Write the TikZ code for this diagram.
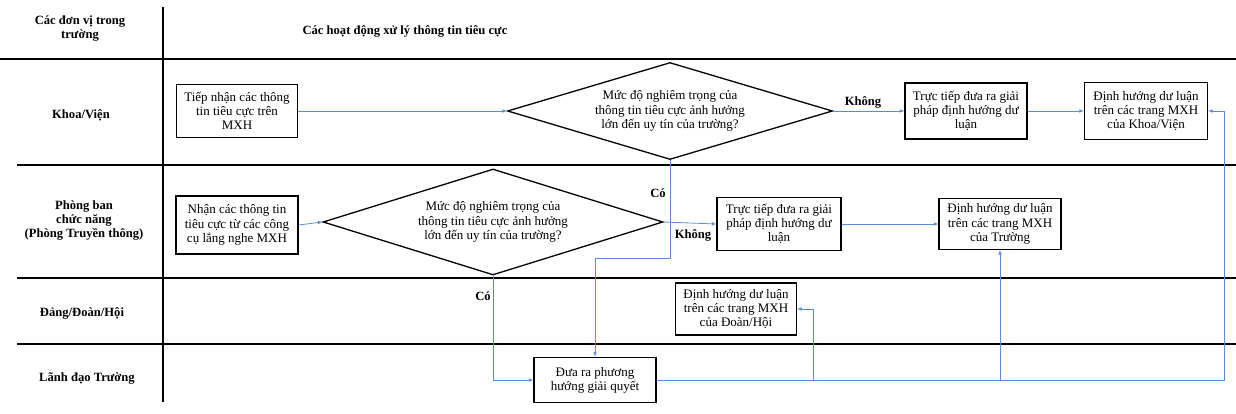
\documentclass[tikz,border=0pt]{standalone}
\usepackage{fontspec}
\setmainfont{Liberation Serif}
\usetikzlibrary{shapes.geometric,arrows.meta}
\definecolor{flow}{RGB}{91,141,212}
\begin{document}
\begin{tikzpicture}[x=1pt,y=-1pt,
  font=\fontsize{13}{14.2}\selectfont,
  lane/.style={draw=black,line width=1.8pt},
  box/.style={draw=black,line width=1.3pt,align=center,inner sep=0pt},
  decision/.style={diamond,draw=black,line width=1.3pt,align=center,inner sep=0pt,aspect=3.3},
  head/.style={font=\fontsize{12.6}{14}\selectfont\bfseries,align=center},
  lbl/.style={font=\fontsize{12.6}{13}\selectfont\bfseries},
  flowline/.style={draw=flow,line width=0.8pt},
  arr/.style={flowline,-{Latex[length=4.5pt,width=3.8pt]}}
]
\useasboundingbox (0,0) rectangle (1236,414);
% lane grid
\draw[lane] (163,7) -- (163,402);
\draw[lane] (0,59) -- (1236,59);
\draw[lane] (17,165) -- (1236,165);
\draw[lane] (17,278) -- (1236,278);
\draw[lane] (17,344) -- (1236,344);
% headers
\node[head] (h1) at (80,29) {Các đơn vị trong\\trường};
\node[head,anchor=west] (h2) at (299,31) {Các hoạt động xử lý thông tin tiêu cực};
\node[head] (r1) at (81,115) {Khoa/Viện};
\node[head] (r2) at (84,221) {Phòng ban\\chức năng\\(Phòng Truyền thông)};
\node[head] (r3) at (82,313) {Đảng/Đoàn/Hội};
\node[head] (r4) at (87,378) {Lãnh đạo Trường};
% row 1
\node[box,minimum width=121pt,minimum height=53pt] (A) at (237,111) {Tiếp nhận các thông\\tin tiêu cực trên\\MXH};
\node[decision,minimum width=325pt,minimum height=97pt] (D1) at (670,111) {Mức độ nghiêm trọng của\\thông tin tiêu cực ảnh hưởng\\lớn đến uy tín của trường?};
\node[box,minimum width=122pt,minimum height=56pt] (B) at (966,111) {Trực tiếp đưa ra giải\\pháp định hướng dư\\luận};
\node[box,minimum width=123pt,minimum height=57pt] (C) at (1146,111) {Định hướng dư luận\\trên các trang MXH\\của Khoa/Viện};
% row 2
\node[box,minimum width=122pt,minimum height=58pt] (F) at (237,225) {Nhận các thông tin\\tiêu cực từ các công\\cụ lắng nghe MXH};
\node[decision,minimum width=340pt,minimum height=106pt] (D2) at (493,222) {Mức độ nghiêm trọng của\\thông tin tiêu cực ảnh hưởng\\lớn đến uy tín của trường?};
\node[box,minimum width=124pt,minimum height=53pt] (G) at (779,224) {Trực tiếp đưa ra giải\\pháp định hướng dư\\luận};
\node[box,minimum width=122pt,minimum height=51pt] (H) at (1000,224) {Định hướng dư luận\\trên các trang MXH\\của Trường};
% row 3
\node[box,minimum width=121pt,minimum height=52pt] (I) at (736,309) {Định hướng dư luận\\trên các trang MXH\\của Đoàn/Hội};
% row 4
\node[box,minimum width=122pt,minimum height=45pt] (E) at (595,380) {Đưa ra phương\\hướng giải quyết};
% labels
\node[lbl] (k1) at (863,102) {Không};
\node[lbl] (c1) at (658,193) {Có};
\node[lbl] (k2) at (693,235) {Không};
\node[lbl] (c2) at (483,296) {Có};
% connectors
\draw[arr] (A.east) -- (D1.west);
\draw[arr] (D1.east) -- (B.west);
\draw[arr] (B.east) -- (C.west);
\coordinate (j1) at (595,258);
\draw[arr] (D1.south) |- (j1) -- (E.north);
\draw[arr] (F.east) -- (D2.west);
\draw[arr] (D2.east) -- (G.west);
\draw[arr] (G.east) -- (H.west);
\draw[arr] (D2.south) |- (E.west);
\coordinate (rr) at (1224,380);
\coordinate (b1) at (813,380);
\draw[arr] (E.east) -- (E.east -| rr) |- (C.east);
\draw[arr] (E.east -| b1) |- (I.east);
\draw[arr] (E.east -| H.south) -- (H.south);
\end{tikzpicture}
\end{document}
